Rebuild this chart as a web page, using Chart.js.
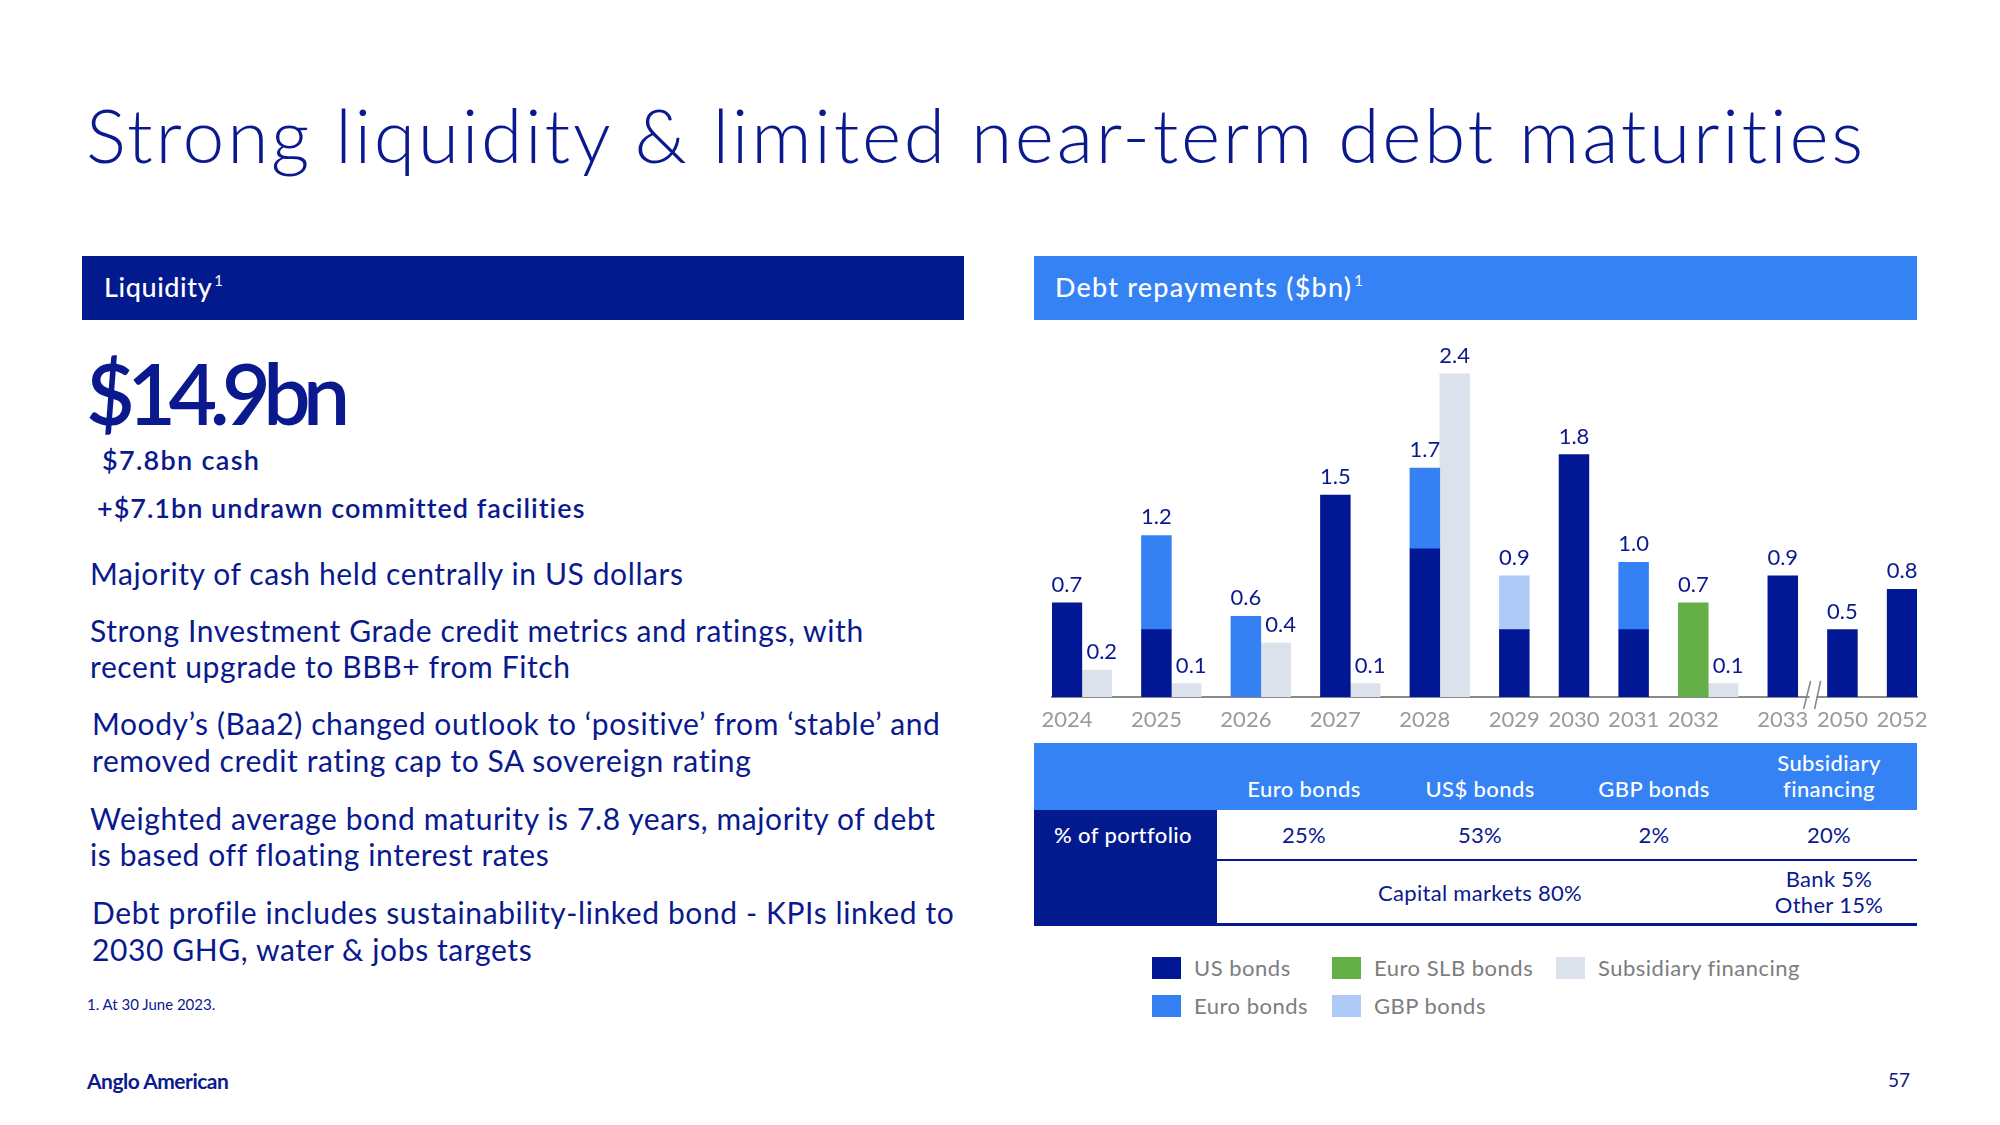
<!DOCTYPE html>
<html><head><meta charset="utf-8">
<script src="https://cdn.jsdelivr.net/npm/chart.js@4/dist/chart.umd.min.js"></script>
<style>
html,body{margin:0;padding:0;background:#fff;}
#slide{position:relative;width:2000px;height:1125px;overflow:hidden;font-family:Lato,sans-serif;color:#0A1A8E;}
.t{position:absolute;line-height:1;white-space:nowrap;}
.c{transform:translateX(-50%);text-align:center;}
.box{position:absolute;}
.w{color:#fff;}
.b{font-size:30px;letter-spacing:0.6px;}
sup{font-size:0.55em;vertical-align:0;position:relative;top:-0.75em;margin-left:2px;font-weight:400;}
#legend{position:absolute;left:1152px;top:957px;display:grid;grid-auto-flow:column;grid-template-rows:37.5px 37.5px;grid-template-columns:180px 224px auto;}
.li{display:flex;align-items:flex-start;font-size:22px;letter-spacing:0.5px;color:#7d7d7d;line-height:22px;}
.sw{width:29px;height:22px;margin-right:13px;flex:none;}
.th{font-size:22px;font-weight:500;letter-spacing:0.4px;}
.tv{font-size:22px;letter-spacing:0.3px;}
</style></head><body><div id="slide">

<div class="t" style="left:86px;top:96.5px;font-size:75px;font-weight:300;letter-spacing:2.7px;">Strong liquidity &amp; limited near-term debt maturities</div>

<div class="box" style="left:82px;top:256px;width:882px;height:64px;background:#031A8F"></div>
<div class="t w" style="left:104px;top:273px;font-size:27px;font-weight:500;letter-spacing:0.6px;">Liquidity<sup>1</sup></div>

<div class="box" style="left:1034px;top:256px;width:883px;height:64px;background:#3582F5"></div>
<div class="t w" style="left:1055px;top:273px;font-size:27px;font-weight:500;letter-spacing:1.2px;">Debt repayments ($bn)<sup>1</sup></div>

<div class="t" style="left:86px;top:350.5px;font-size:84px;font-weight:600;letter-spacing:-7.5px;">$14.9bn</div>
<div class="t" style="left:102px;top:446px;font-size:27px;font-weight:600;letter-spacing:1.3px;">$7.8bn cash</div>
<div class="t" style="left:97px;top:493.7px;font-size:27px;font-weight:600;letter-spacing:1px;">+$7.1bn undrawn committed facilities</div>

<div class="t b" style="left:90px;top:558.4px;">Majority of cash held centrally in US dollars</div>
<div class="t b" style="left:90px;top:615px;">Strong Investment Grade credit metrics and ratings, with</div>
<div class="t b" style="left:90px;top:651.4px;">recent upgrade to BBB+ from Fitch</div>
<div class="t b" style="left:92px;top:708.4px;">Moody’s (Baa2) changed outlook to ‘positive’ from ‘stable’ and</div>
<div class="t b" style="left:92px;top:744.9px;">removed credit rating cap to SA sovereign rating</div>
<div class="t b" style="left:90px;top:803.4px;">Weighted average bond maturity is 7.8 years, majority of debt</div>
<div class="t b" style="left:90px;top:839.4px;">is based off floating interest rates</div>
<div class="t b" style="left:92px;top:897.4px;">Debt profile includes sustainability-linked bond - KPIs linked to</div>
<div class="t b" style="left:92px;top:934.1px;">2030 GHG, water &amp; jobs targets</div>

<div class="t" style="left:87px;top:996.7px;font-size:15px;">1. At 30 June 2023.</div>
<div class="t" style="left:87px;top:1070.4px;font-size:21px;font-weight:700;letter-spacing:-0.5px;">Anglo American</div>
<div class="t" style="left:1888px;top:1070px;font-size:19px;">57</div>

<canvas id="chart" width="890" height="410" style="position:absolute;left:1040px;top:330px;"></canvas>

<!-- portfolio table -->
<div class="box" style="left:1034px;top:743px;width:883px;height:67px;background:#3582F5"></div>
<div class="box" style="left:1034px;top:810px;width:183px;height:116px;background:#031A8F"></div>
<div class="box" style="left:1217px;top:859px;width:700px;height:2px;background:#031A8F"></div>
<div class="box" style="left:1217px;top:923px;width:700px;height:3px;background:#031A8F"></div>

<div class="t w c th" style="left:1304px;top:777.8px;">Euro bonds</div>
<div class="t w c th" style="left:1480px;top:777.8px;">US$ bonds</div>
<div class="t w c th" style="left:1654px;top:777.8px;">GBP bonds</div>
<div class="t w c th" style="left:1829px;top:750.4px;line-height:25.6px;">Subsidiary<br>financing</div>

<div class="t w th" style="left:1054px;top:823.8px;">% of portfolio</div>
<div class="t c tv" style="left:1304px;top:823.8px;">25%</div>
<div class="t c tv" style="left:1480px;top:823.8px;">53%</div>
<div class="t c tv" style="left:1654px;top:823.8px;">2%</div>
<div class="t c tv" style="left:1829px;top:823.8px;">20%</div>
<div class="t c tv" style="left:1480px;top:881.5px;">Capital markets 80%</div>
<div class="t c tv" style="left:1829px;top:868.2px;">Bank 5%</div>
<div class="t c tv" style="left:1829px;top:893.8px;">Other 15%</div>

<div id="legend"></div>
</div>

<script>
// ---- data ----
const years = ['2024','2025','2026','2027','2028','2029','2030','2031','2032','2033','2050','2052'];
const usBonds             = [0.7, 0.5, 0,   1.5, 1.1, 0.5, 1.8, 0.5, 0,   0.9, 0.5, 0.8];
const euroBonds           = [0,   0.7, 0.6, 0,   0.6, 0,   0,   0.5, 0,   0,   0,   0  ];
const gbpBonds            = [0,   0,   0,   0,   0,   0.4, 0,   0,   0,   0,   0,   0  ];
const euroSlbBonds        = [0,   0,   0,   0,   0,   0,   0,   0,   0.7, 0,   0,   0  ];
const subsidiaryFinancing = [0.2, 0.1, 0.4, 0.1, 2.4, 0,   0,   0,   0.1, 0,   0,   0  ];
const seriesNames  = ['US bonds','Euro bonds','GBP bonds','Euro SLB bonds','Subsidiary financing'];
const seriesColors = ['#021793','#3580F3','#AECBF8','#65AF47','#DCE2EC'];
const legendOrder  = ['US bonds','Euro bonds','Euro SLB bonds','GBP bonds','Subsidiary financing'];
const breakAfterYear = '2033';

// ---- slots: main bar, optional subsidiary bar, gap ----
const slots = [];
years.forEach((y, i) => {
  slots.push({label: y, i, kind: 'main'});
  if (subsidiaryFinancing[i] > 0) slots.push({label: '', i, kind: 'sub'});
  if (i < years.length - 1) slots.push({label: '', i, kind: 'gap'});
});
const mainSeries = [usBonds, euroBonds, gbpBonds, euroSlbBonds];
const datasets = mainSeries.map((arr, k) => ({
  label: seriesNames[k], backgroundColor: seriesColors[k],
  data: slots.map(s => s.kind === 'main' && arr[s.i] > 0 ? arr[s.i] : null)
}));
datasets.push({label: seriesNames[4], backgroundColor: seriesColors[4],
  data: slots.map(s => s.kind === 'sub' ? subsidiaryFinancing[s.i] : null)});

const valueLabels = {
  id: 'valueLabels',
  afterDatasetsDraw(chart) {
    const {ctx, chartArea} = chart, xs = chart.scales.x, ys = chart.scales.y;
    ctx.save();
    ctx.font = '22px Lato'; ctx.fillStyle = '#0A1A8E';
    ctx.textAlign = 'center'; ctx.textBaseline = 'alphabetic';
    slots.forEach((s, j) => {
      let v = null, dx = 0;
      if (s.kind === 'main') v = mainSeries.reduce((a, arr) => a + arr[s.i], 0);
      else if (s.kind === 'sub') { v = subsidiaryFinancing[s.i]; dx = v < 1 ? 5 : 0; }
      if (v == null || v <= 0) return;
      ctx.fillText(v.toFixed(1), xs.getPixelForValue(j) + dx, ys.getPixelForValue(v) - 11);
    });
    const bj = slots.findIndex(s => s.kind === 'gap' && years[s.i] === breakAfterYear);
    if (bj >= 0) {
      const cx = xs.getPixelForValue(bj), b = chartArea.bottom;
      ctx.fillStyle = '#fff'; ctx.fillRect(cx - 3, b - 3, 7, 6);
      ctx.strokeStyle = '#8a8a8a'; ctx.lineWidth = 1.6;
      ctx.beginPath();
      ctx.moveTo(cx - 2, b - 16); ctx.lineTo(cx - 9, b + 12);
      ctx.moveTo(cx + 8, b - 16); ctx.lineTo(cx + 2, b + 12);
      ctx.stroke();
    }
    ctx.restore();
  }
};

new Chart(document.getElementById('chart'), {
  type: 'bar',
  data: {labels: slots.map(s => s.label), datasets},
  options: {
    responsive: false, animation: false,
    layout: {padding: {left: 12, right: 13, top: 17, bottom: 0}},
    plugins: {legend: {display: false}, tooltip: {enabled: false}},
    datasets: {bar: {barPercentage: 1, categoryPercentage: 1, borderWidth: 0}},
    scales: {
      x: {stacked: true, offset: true,
          grid: {display: false, drawTicks: false},
          border: {display: true, color: '#8a8a8a', width: 2},
          ticks: {autoSkip: false, maxRotation: 0, padding: 10, color: '#9a9a9a', font: {family: 'Lato', size: 22}},
          afterFit: s => { s.height = 43; s.paddingLeft = 0; s.paddingRight = 0; }},
      y: {stacked: true, display: false, min: 0, max: 2.6}
    }
  },
  plugins: [valueLabels]
});

// ---- HTML legend ----
const lg = document.getElementById('legend');
legendOrder.forEach(name => {
  const k = seriesNames.indexOf(name);
  const it = document.createElement('div'); it.className = 'li';
  const sw = document.createElement('span'); sw.className = 'sw'; sw.style.background = seriesColors[k];
  it.appendChild(sw); it.appendChild(document.createTextNode(name));
  lg.appendChild(it);
});
</script>
</body></html>
